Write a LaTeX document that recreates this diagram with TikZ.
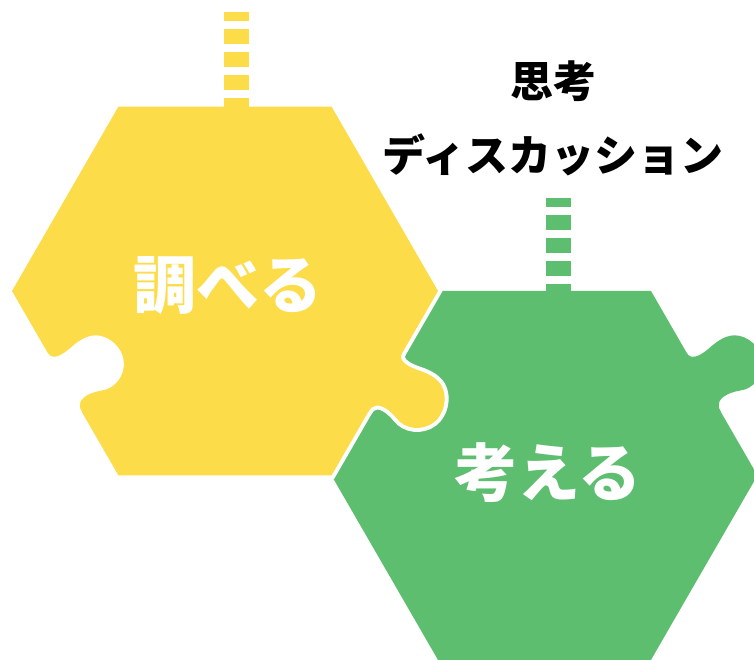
\documentclass[tikz,border=0pt]{standalone}
\usepackage{fontspec}
\newfontfamily\jpfont{Noto Sans CJK JP}
\usetikzlibrary{calc}

\definecolor{hexyellow}{HTML}{FDDC4A}
\definecolor{hexgreen}{HTML}{5DBE70}

\tikzset{
  stick/.style={line width=25pt, dash pattern=on 15pt off 8pt, dash phase=6pt},
  bigword/.style={text=white, font=\jpfont\bfseries\fontsize{63}{70}\selectfont},
  smallword/.style={text=black, font=\jpfont\bfseries\fontsize{43}{48}\selectfont},
  seam/.style={white, line width=8pt}
}

% flat-top hexagon of radius 213 around a named centre
\newcommand\hexagon[1]{($(#1)+(0:213)$) -- ++(120:213) -- ++(180:213) -- ++(240:213) -- ++(300:213) -- ++(0:213) -- cycle}
% puzzle knob on an edge lying on the x axis, head towards +y
\newcommand\knob{(72,0) .. controls (79,0) and (81,8) .. (79,20)
  .. controls (77,30) and (75,40) .. (80,50)
  .. controls (87,62) and (104,67) .. (116,62)
  .. controls (130,56) and (136,40) .. (131,28)
  .. controls (128,20) and (126,10) .. (130,4)
  .. controls (132,1) and (135,0) .. (140,0)}

\begin{document}
\begin{tikzpicture}[x=1pt,y=1pt]
  \useasboundingbox (0,0) rectangle (754,660);
  \clip (0,0) rectangle (754,660);

  \coordinate (yc) at (225,369);
  \coordinate (gc) at ($(yc)+(-30:368.9)$);
  \coordinate (yr) at ($(yc)+(0:213)$);
  \coordinate (yl) at ($(yc)+(180:213)$);
  \coordinate (gtr) at ($(gc)+(60:213)$);

  % green piece
  \fill[hexgreen] \hexagon{gc};
  \begin{scope}[shift={(gtr)}, rotate=-60]
    \fill[hexgreen] \knob -- (140,-4) -- (72,-4) -- cycle;
  \end{scope}

  % yellow piece with white seam
  \draw[seam] \hexagon{yc};
  \begin{scope}[shift={(yr)}, rotate=240]
    \draw[seam] \knob;
  \end{scope}
  \fill[hexyellow] \hexagon{yc};
  \begin{scope}[shift={(yr)}, rotate=240]
    \fill[hexyellow] \knob -- (140,-4) -- (72,-4) -- cycle;
  \end{scope}
  \begin{scope}[shift={(yl)}, rotate=-60]
    \fill[white] \knob -- (140,-4) -- (72,-4) -- cycle;
  \end{scope}

  \draw[stick, hexyellow] (236.5,648) -- (236.5,553);
  \draw[stick, hexgreen] (558.5,462) -- (558.5,367);

  \node[bigword] (shiraberu) at (228,374) {調べる};
  \node[bigword] (kangaeru) at (548,187) {考える};
  \node[smallword] (shikou) at (553,579) {思考};
  \node[smallword] (discussion) at (553,505) {ディスカッション};
\end{tikzpicture}
\end{document}
